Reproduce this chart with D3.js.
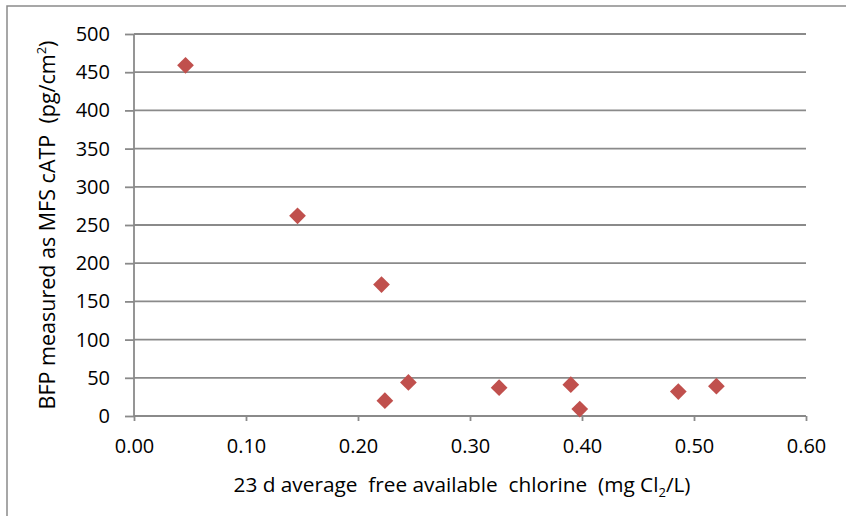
<!DOCTYPE html>
<html><head><meta charset="utf-8">
<script src="https://cdn.jsdelivr.net/npm/d3@7"></script>
<style>body{margin:0;background:#fff}text{font-family:"Open Sans",Lato,sans-serif;fill:#000}</style>
</head><body><svg id="c" width="846" height="516"></svg>
<script>
const chlorine = [0.046, 0.146, 0.221, 0.224, 0.245, 0.326, 0.390, 0.398, 0.486, 0.520];
const catp = [459, 262, 172, 20, 44, 37, 41, 9, 32, 39];
const xTicks = [0, 0.1, 0.2, 0.3, 0.4, 0.5, 0.6];
const yTicks = [0, 50, 100, 150, 200, 250, 300, 350, 400, 450, 500];

const svg = d3.select("#c");
svg.append("rect").attr("x",7).attr("y",6).attr("width",900).attr("height",600)
  .attr("fill","#fff").attr("stroke","#8a8a8a").attr("stroke-width",1.5);

const x = d3.scaleLinear().domain([0,0.6]).range([134,806]);
const y = d3.scaleLinear().domain([0,500]).range([416,34]);

svg.append("g").selectAll("line").data(yTicks.filter(d=>d>0)).join("line")
  .attr("x1",134).attr("x2",806).attr("y1",d=>y(d)).attr("y2",d=>y(d))
  .attr("stroke","#8a8a8a").attr("stroke-width",1.8);

const ya = svg.append("g").attr("transform","translate(134,0)")
  .call(d3.axisLeft(y).tickValues(yTicks).tickSize(9).tickPadding(15).tickFormat(d3.format("d")));
const xa = svg.append("g").attr("transform","translate(0,416)")
  .call(d3.axisBottom(x).tickValues(xTicks).tickSize(5).tickPadding(18).tickFormat(d3.format(".2f")));
[ya,xa].forEach(a=>{
  a.selectAll("path,line").attr("stroke","#8a8a8a").attr("stroke-width",1.8);
  a.select("path").attr("d", a===ya ? "M0,34V416" : "M134,0H806");
  a.selectAll("text").attr("font-size",20).attr("font-family","Open Sans").attr("fill","#000");
});

const sym = d3.symbol().type(d3.symbolSquare).size(140);
svg.append("g").selectAll("path").data(chlorine.map((c,i)=>[c,catp[i]])).join("path")
  .attr("d",sym).attr("transform",d=>`translate(${x(d[0])},${y(d[1])}) rotate(45)`)
  .attr("fill","#C0504D");

const xt = svg.append("text").attr("x",462).attr("y",492).attr("text-anchor","middle")
  .attr("font-size",20.8).style("white-space","pre");
xt.append("tspan").text("23 d average  free available  chlorine  (mg Cl");
xt.append("tspan").attr("font-size",13).attr("dy",5).text("2");
xt.append("tspan").attr("dy",-5).text("/L)");

const yt = svg.append("text").attr("transform","translate(55,225) rotate(-90)")
  .attr("text-anchor","middle").attr("font-size",21.5).style("white-space","pre");
yt.append("tspan").text("BFP measured as MFS cATP  (pg/cm");
yt.append("tspan").attr("font-size",13).attr("dy",-9).text("2");
yt.append("tspan").attr("dy",9).text(")");
</script></body></html>
